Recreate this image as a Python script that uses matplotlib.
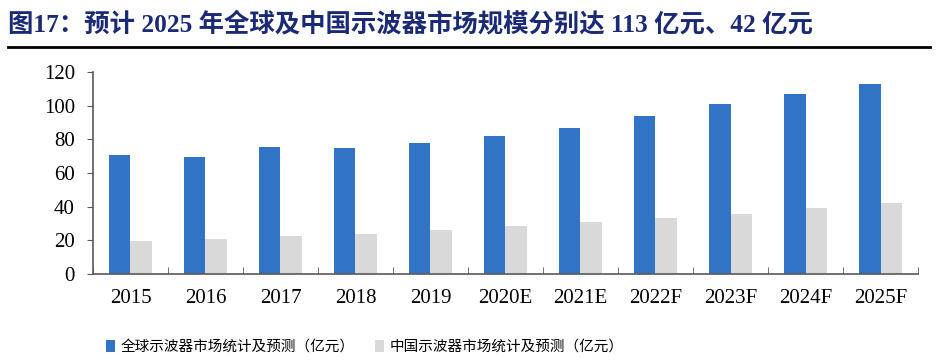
import numpy as np
import matplotlib.pyplot as plt
from matplotlib.lines import Line2D

years = ['2015', '2016', '2017', '2018', '2019', '2020E', '2021E',
         '2022F', '2023F', '2024F', '2025F']
global_market = [70.5, 69.5, 75.5, 74.8, 78, 82, 87, 94, 101, 107, 113]
china_market = [19.5, 20.7, 22.5, 24, 26, 28.5, 31, 33.5, 35.8, 39, 42]

serif = ['Liberation Serif', 'Noto Sans CJK SC']
cjk = ['Noto Sans CJK SC', 'DejaVu Sans']

fig = plt.figure(figsize=(9.38, 3.64), dpi=100)
ax = fig.add_axes([0.0991, 0.2473, 0.8796, 0.555])

x = np.arange(len(years))
w = 0.29
ax.bar(x - w / 2, global_market, w, color='#3173C5', label='全球示波器市场统计及预测（亿元）')
ax.bar(x + w / 2, china_market, w, color='#D9D9D9', label='中国示波器市场统计及预测（亿元）')

ax.set_xlim(-0.5, len(years) - 0.5)
ax.set_ylim(0, 120)
ax.set_yticks(np.arange(0, 121, 20))
ax.set_xticks(x)
ax.set_xticklabels(years)
ax.set_xticks(np.arange(-0.5, len(years), 1), minor=True)
ax.tick_params(axis='x', which='major', length=0, pad=11)
ax.tick_params(axis='x', which='minor', length=5, color='#595959', direction='in')
ax.tick_params(axis='y', length=4, color='#595959', pad=9)
for lab in ax.get_xticklabels() + ax.get_yticklabels():
    lab.set_family(serif)
    lab.set_fontsize(15)
for s in ['top', 'right']:
    ax.spines[s].set_visible(False)
for s in ['left', 'bottom']:
    ax.spines[s].set_color('#595959')
    ax.spines[s].set_linewidth(1.2)

fig.text(0.008, 0.935, '图17：预计 2025 年全球及中国示波器市场规模分别达 113 亿元、42 亿元',
         family=serif, fontsize=18.3, fontweight='bold', color='#1B2A78',
         va='center', ha='left')
fig.add_artist(Line2D([0.008, 0.992], [0.871, 0.871], color='black', lw=2))

leg = fig.legend(loc='center left', bbox_to_anchor=(0.099, 0.047), ncol=2,
                 frameon=False, prop={'family': cjk, 'size': 10.5},
                 handlelength=0.6, handleheight=0.9, handletextpad=0.4,
                 columnspacing=1.4)

fig.savefig('out.png', dpi=100)
